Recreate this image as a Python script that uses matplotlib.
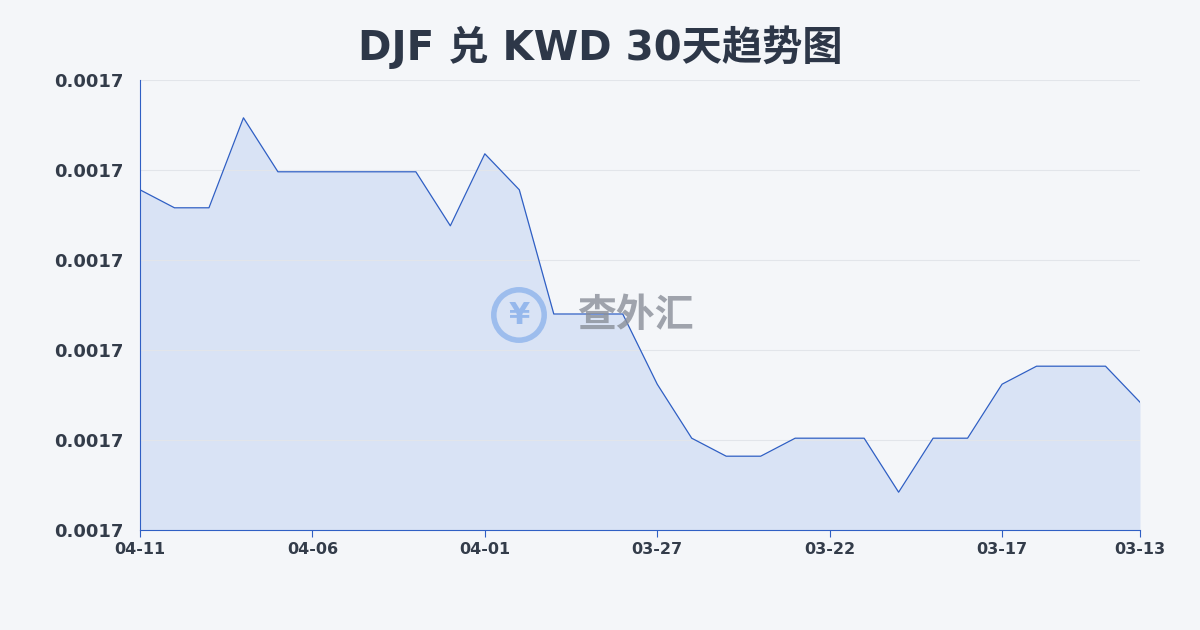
import matplotlib
matplotlib.use("Agg")
import matplotlib.pyplot as plt
from matplotlib.patches import Ellipse
from matplotlib.ticker import FormatStrFormatter

plt.rcParams['font.family'] = ['DejaVu Sans', 'Noto Sans CJK SC']

dates = ["04-11", "04-10", "04-09", "04-08", "04-07", "04-06", "04-05", "04-04",
         "04-03", "04-02", "04-01", "03-31", "03-30", "03-29", "03-28", "03-27",
         "03-26", "03-25", "03-24", "03-23", "03-22", "03-21", "03-20", "03-19",
         "03-18", "03-17", "03-16", "03-15", "03-14", "03-13"]
rates = [0.0017089, 0.0017079, 0.0017079, 0.0017129, 0.0017099, 0.0017099,
         0.0017099, 0.0017099, 0.0017099, 0.0017069, 0.0017109, 0.0017089,
         0.0017020, 0.0017020, 0.0017020, 0.0016981, 0.0016951, 0.0016941,
         0.0016941, 0.0016951, 0.0016951, 0.0016951, 0.0016921, 0.0016951,
         0.0016951, 0.0016981, 0.0016991, 0.0016991, 0.0016991, 0.0016971]
yticks = [0.001690, 0.001695, 0.001700, 0.001705, 0.001710, 0.001715]
tick_idx = [0, 5, 10, 15, 20, 25, 29]

fig = plt.figure(figsize=(12, 6.3), dpi=100)
fig.patch.set_facecolor("#f4f6f9")
ax = fig.add_axes([140 / 1200, 100 / 630, 1000 / 1200, 450 / 630])
ax.set_facecolor("none")

x = list(range(len(rates)))
ax.fill_between(x, rates, yticks[0], color="#d5e0f5", alpha=0.85, linewidth=0)
ax.plot(x, rates, color="#2f5fc4", linewidth=0.9)

ax.set_xlim(0, len(rates) - 1)
ax.set_ylim(yticks[0], yticks[-1])
ax.set_yticks(yticks)
ax.yaxis.set_major_formatter(FormatStrFormatter("%.4f"))
ax.set_xticks(tick_idx)
ax.set_xticklabels([dates[i] for i in tick_idx])
ax.grid(axis="y", color="#e2e5ea", linewidth=0.8)
for s in ["top", "right"]:
    ax.spines[s].set_visible(False)
ax.spines["left"].set_color("#2f5fc4")
ax.spines["left"].set_linewidth(0.8)
ax.spines["bottom"].set_color("#2f5fc4")
ax.spines["bottom"].set_linewidth(0.8)
ax.tick_params(axis="y", length=0, pad=12, labelsize=13, labelcolor="#333c4a")
ax.tick_params(axis="x", length=5, color="#2f5fc4", labelsize=11.5, labelcolor="#333c4a")
for lbl in ax.get_xticklabels() + ax.get_yticklabels():
    lbl.set_fontweight("bold")

fig.text(0.5, 0.925, "DJF 兑 KWD 30天趋势图", ha="center", va="center",
         fontsize=29, fontweight="bold", color="#2d3748")

# watermark
cx, cy = 519 / 1200, 1 - 315 / 630
fig.add_artist(Ellipse((cx, cy), 0.042, 0.042 * 1200 / 630, transform=fig.transFigure,
                       fill=False, edgecolor="#8fb4ec", linewidth=4, alpha=0.8))
fig.text(cx, cy, "¥", ha="center", va="center", fontsize=22,
         fontweight="bold", color="#8fb4ec", alpha=0.9)
fig.text(635 / 1200, cy, "查外汇", ha="center", va="center", fontsize=28,
         fontweight="bold", color="#8a8f99", alpha=0.8,
         family=['Noto Sans CJK SC', 'DejaVu Sans'])

fig.savefig("out.png", dpi=100)
